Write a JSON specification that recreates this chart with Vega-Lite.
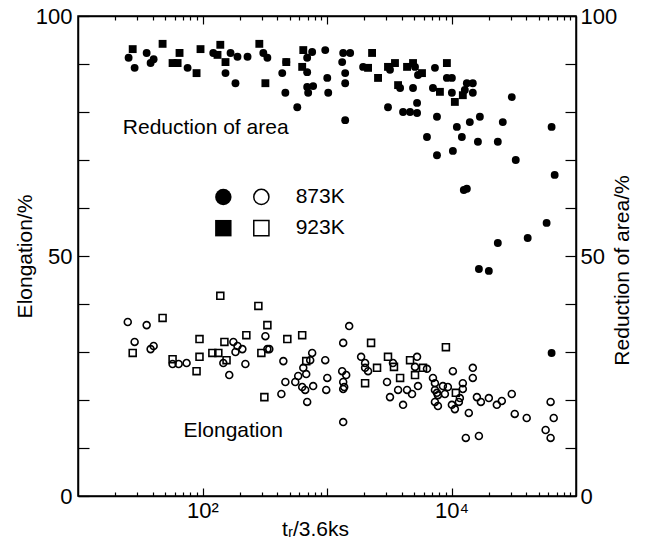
{
  "$schema": "https://vega.github.io/schema/vega-lite/v6.json",
  "width": 498,
  "height": 480,
  "autosize": "none",
  "padding": {"left": 78, "top": 16, "right": 71, "bottom": 46},
  "background": "white",
  "config": {
    "font": "Liberation Sans",
    "view": {"stroke": "black", "strokeWidth": 1.5},
    "axis": {
      "grid": false,
      "domainColor": "black",
      "domainWidth": 1.5,
      "tickColor": "black",
      "tickWidth": 1.2,
      "labelColor": "black",
      "labelFontSize": 22,
      "labelFont": "Liberation Sans",
      "titleColor": "black",
      "titleFontSize": 21,
      "titleFont": "Liberation Sans",
      "titleFontWeight": "normal"
    }
  },
  "datasets": {
    "ra": [
      {"t": 25.5, "v": 91.3, "T": "873K"}, {"t": 28.5, "v": 89.2, "T": "873K"}, {"t": 35.6, "v": 92.3, "T": "873K"}, {"t": 40.5, "v": 91.0, "T": "873K"},
      {"t": 38.3, "v": 90.2, "T": "873K"}, {"t": 75.9, "v": 89.2, "T": "873K"}, {"t": 122, "v": 92.3, "T": "873K"}, {"t": 168, "v": 92.3, "T": "873K"},
      {"t": 191, "v": 91.5, "T": "873K"}, {"t": 153, "v": 88.1, "T": "873K"}, {"t": 184, "v": 86.0, "T": "873K"}, {"t": 230, "v": 91.5, "T": "873K"},
      {"t": 308, "v": 92.3, "T": "873K"}, {"t": 332, "v": 91.3, "T": "873K"}, {"t": 437, "v": 88.1, "T": "873K"}, {"t": 471, "v": 90.4, "T": "873K"},
      {"t": 463, "v": 84.0, "T": "873K"}, {"t": 577, "v": 81.0, "T": "873K"}, {"t": 760, "v": 92.5, "T": "873K"}, {"t": 693, "v": 91.3, "T": "873K"},
      {"t": 693, "v": 88.3, "T": "873K"}, {"t": 693, "v": 85.2, "T": "873K"}, {"t": 774, "v": 85.4, "T": "873K"}, {"t": 706, "v": 84.0, "T": "873K"},
      {"t": 968, "v": 92.9, "T": "873K"}, {"t": 1005, "v": 87.1, "T": "873K"}, {"t": 1023, "v": 84.0, "T": "873K"}, {"t": 1349, "v": 92.3, "T": "873K"},
      {"t": 1535, "v": 92.3, "T": "873K"}, {"t": 1324, "v": 90.4, "T": "873K"}, {"t": 1400, "v": 88.1, "T": "873K"}, {"t": 1400, "v": 86.0, "T": "873K"},
      {"t": 1400, "v": 78.3, "T": "873K"}, {"t": 1950, "v": 89.4, "T": "873K"}, {"t": 3206, "v": 88.8, "T": "873K"}, {"t": 3090, "v": 81.0, "T": "873K"},
      {"t": 3865, "v": 85.0, "T": "873K"}, {"t": 4083, "v": 80.0, "T": "873K"}, {"t": 4647, "v": 80.0, "T": "873K"}, {"t": 5289, "v": 79.8, "T": "873K"},
      {"t": 5093, "v": 89.4, "T": "873K"}, {"t": 5383, "v": 87.7, "T": "873K"}, {"t": 4909, "v": 85.0, "T": "873K"}, {"t": 5289, "v": 81.9, "T": "873K"},
      {"t": 6353, "v": 74.8, "T": "873K"}, {"t": 7362, "v": 89.2, "T": "873K"}, {"t": 7643, "v": 79.0, "T": "873K"}, {"t": 7643, "v": 71.0, "T": "873K"},
      {"t": 7096, "v": 85.0, "T": "873K"}, {"t": 9183, "v": 87.1, "T": "873K"}, {"t": 10070, "v": 87.1, "T": "873K"}, {"t": 10070, "v": 84.0, "T": "873K"},
      {"t": 11040, "v": 76.9, "T": "873K"}, {"t": 12110, "v": 74.8, "T": "873K"}, {"t": 12790, "v": 84.6, "T": "873K"}, {"t": 13280, "v": 86.0, "T": "873K"},
      {"t": 14830, "v": 86.0, "T": "873K"}, {"t": 14830, "v": 84.0, "T": "873K"}, {"t": 14030, "v": 77.9, "T": "873K"}, {"t": 16900, "v": 79.0, "T": "873K"},
      {"t": 16300, "v": 73.8, "T": "873K"}, {"t": 10260, "v": 71.9, "T": "873K"}, {"t": 12560, "v": 63.75, "T": "873K"}, {"t": 13280, "v": 64.0, "T": "873K"},
      {"t": 23550, "v": 73.8, "T": "873K"}, {"t": 25820, "v": 77.9, "T": "873K"}, {"t": 30480, "v": 83.1, "T": "873K"}, {"t": 32810, "v": 70.0, "T": "873K"},
      {"t": 23550, "v": 52.7, "T": "873K"}, {"t": 16600, "v": 47.3, "T": "873K"}, {"t": 19950, "v": 46.9, "T": "873K"}, {"t": 40930, "v": 53.75, "T": "873K"},
      {"t": 58070, "v": 56.9, "T": "873K"}, {"t": 63680, "v": 76.9, "T": "873K"}, {"t": 67400, "v": 66.9, "T": "873K"}, {"t": 63680, "v": 29.8, "T": "873K"},
      {"t": 27.5, "v": 93.1, "T": "923K"}, {"t": 47.8, "v": 94.2, "T": "923K"}, {"t": 65.4, "v": 92.3, "T": "923K"}, {"t": 57.5, "v": 90.2, "T": "923K"},
      {"t": 63.1, "v": 90.2, "T": "923K"}, {"t": 89.6, "v": 88.1, "T": "923K"}, {"t": 96.4, "v": 93.1, "T": "923K"}, {"t": 139, "v": 94.0, "T": "923K"},
      {"t": 132, "v": 91.9, "T": "923K"}, {"t": 153, "v": 90.4, "T": "923K"}, {"t": 286, "v": 94.2, "T": "923K"}, {"t": 320, "v": 86.0, "T": "923K"},
      {"t": 471, "v": 90.4, "T": "923K"}, {"t": 645, "v": 92.9, "T": "923K"}, {"t": 632, "v": 89.4, "T": "923K"}, {"t": 2302, "v": 92.3, "T": "923K"},
      {"t": 2138, "v": 89.2, "T": "923K"}, {"t": 2570, "v": 87.1, "T": "923K"}, {"t": 3090, "v": 89.4, "T": "923K"}, {"t": 3516, "v": 90.2, "T": "923K"},
      {"t": 3724, "v": 85.6, "T": "923K"}, {"t": 4395, "v": 89.4, "T": "923K"}, {"t": 4909, "v": 90.2, "T": "923K"}, {"t": 5794, "v": 88.1, "T": "923K"},
      {"t": 9183, "v": 90.2, "T": "923K"}, {"t": 8072, "v": 84.2, "T": "923K"}, {"t": 10640, "v": 82.1, "T": "923K"}, {"t": 12330, "v": 83.5, "T": "923K"}
    ],
    "el": [
      {"t": 25.1, "v": 36.25, "T": "873K"}, {"t": 35.6, "v": 35.6, "T": "873K"}, {"t": 28.5, "v": 32.1, "T": "873K"}, {"t": 38.3, "v": 30.6, "T": "873K"},
      {"t": 40.5, "v": 31.25, "T": "873K"}, {"t": 57.5, "v": 27.5, "T": "873K"}, {"t": 64.3, "v": 27.5, "T": "873K"}, {"t": 74.5, "v": 27.7, "T": "873K"},
      {"t": 147, "v": 27.7, "T": "873K"}, {"t": 164, "v": 25.2, "T": "873K"}, {"t": 177, "v": 32.1, "T": "873K"}, {"t": 184, "v": 30.0, "T": "873K"},
      {"t": 209, "v": 30.6, "T": "873K"}, {"t": 191, "v": 31.25, "T": "873K"}, {"t": 221, "v": 27.5, "T": "873K"}, {"t": 320, "v": 33.3, "T": "873K"},
      {"t": 332, "v": 30.6, "T": "873K"}, {"t": 344, "v": 30.6, "T": "873K"}, {"t": 430, "v": 21.25, "T": "873K"}, {"t": 446, "v": 28.1, "T": "873K"},
      {"t": 463, "v": 23.75, "T": "873K"}, {"t": 760, "v": 29.8, "T": "873K"}, {"t": 733, "v": 28.3, "T": "873K"}, {"t": 645, "v": 26.7, "T": "873K"},
      {"t": 681, "v": 25.4, "T": "873K"}, {"t": 587, "v": 25.0, "T": "873K"}, {"t": 556, "v": 23.75, "T": "873K"}, {"t": 632, "v": 22.7, "T": "873K"},
      {"t": 668, "v": 22.1, "T": "873K"}, {"t": 774, "v": 22.9, "T": "873K"}, {"t": 693, "v": 19.6, "T": "873K"}, {"t": 968, "v": 28.3, "T": "873K"},
      {"t": 1005, "v": 24.6, "T": "873K"}, {"t": 986, "v": 22.1, "T": "873K"}, {"t": 1349, "v": 31.9, "T": "873K"}, {"t": 1507, "v": 35.4, "T": "873K"},
      {"t": 1324, "v": 26.0, "T": "873K"}, {"t": 1426, "v": 25.2, "T": "873K"}, {"t": 1349, "v": 23.75, "T": "873K"}, {"t": 1374, "v": 22.7, "T": "873K"},
      {"t": 1349, "v": 22.3, "T": "873K"}, {"t": 1349, "v": 15.4, "T": "873K"}, {"t": 1879, "v": 29.0, "T": "873K"}, {"t": 2023, "v": 27.7, "T": "873K"},
      {"t": 2023, "v": 26.7, "T": "873K"}, {"t": 2138, "v": 26.0, "T": "873K"}, {"t": 3034, "v": 23.75, "T": "873K"}, {"t": 3206, "v": 20.6, "T": "873K"},
      {"t": 3388, "v": 27.7, "T": "873K"}, {"t": 3724, "v": 22.1, "T": "873K"}, {"t": 4083, "v": 19.0, "T": "873K"}, {"t": 4395, "v": 22.1, "T": "873K"},
      {"t": 4819, "v": 21.25, "T": "873K"}, {"t": 5383, "v": 22.9, "T": "873K"}, {"t": 5289, "v": 29.0, "T": "873K"}, {"t": 5093, "v": 26.9, "T": "873K"},
      {"t": 6353, "v": 26.5, "T": "873K"}, {"t": 7096, "v": 24.6, "T": "873K"}, {"t": 7362, "v": 23.5, "T": "873K"}, {"t": 7362, "v": 22.1, "T": "873K"},
      {"t": 7643, "v": 21.5, "T": "873K"}, {"t": 7780, "v": 21.0, "T": "873K"}, {"t": 7362, "v": 19.6, "T": "873K"}, {"t": 7780, "v": 18.75, "T": "873K"},
      {"t": 8530, "v": 22.9, "T": "873K"}, {"t": 9354, "v": 22.7, "T": "873K"}, {"t": 8851, "v": 21.25, "T": "873K"}, {"t": 10070, "v": 19.0, "T": "873K"},
      {"t": 10640, "v": 18.1, "T": "873K"}, {"t": 10260, "v": 26.0, "T": "873K"}, {"t": 11670, "v": 20.4, "T": "873K"}, {"t": 12330, "v": 22.3, "T": "873K"},
      {"t": 12330, "v": 23.5, "T": "873K"}, {"t": 11460, "v": 19.6, "T": "873K"}, {"t": 14830, "v": 26.7, "T": "873K"}, {"t": 14830, "v": 24.6, "T": "873K"},
      {"t": 13770, "v": 17.3, "T": "873K"}, {"t": 13030, "v": 12.1, "T": "873K"}, {"t": 16600, "v": 12.5, "T": "873K"}, {"t": 16000, "v": 20.6, "T": "873K"},
      {"t": 17220, "v": 19.6, "T": "873K"}, {"t": 19950, "v": 20.4, "T": "873K"}, {"t": 23120, "v": 19.0, "T": "873K"}, {"t": 25350, "v": 19.8, "T": "873K"},
      {"t": 30480, "v": 21.25, "T": "873K"}, {"t": 32210, "v": 17.1, "T": "873K"}, {"t": 40180, "v": 16.25, "T": "873K"}, {"t": 62520, "v": 19.6, "T": "873K"},
      {"t": 66220, "v": 16.25, "T": "873K"}, {"t": 57020, "v": 13.75, "T": "873K"}, {"t": 62520, "v": 12.1, "T": "873K"},
      {"t": 47.8, "v": 37.1, "T": "923K"}, {"t": 27.5, "v": 29.8, "T": "923K"}, {"t": 57.5, "v": 28.5, "T": "923K"}, {"t": 89.6, "v": 26.0, "T": "923K"},
      {"t": 94.6, "v": 29.0, "T": "923K"}, {"t": 94.6, "v": 32.7, "T": "923K"}, {"t": 139, "v": 41.7, "T": "923K"}, {"t": 120, "v": 29.8, "T": "923K"},
      {"t": 134, "v": 29.8, "T": "923K"}, {"t": 150, "v": 32.1, "T": "923K"}, {"t": 156, "v": 28.3, "T": "923K"}, {"t": 225, "v": 33.5, "T": "923K"},
      {"t": 281, "v": 39.6, "T": "923K"}, {"t": 332, "v": 35.6, "T": "923K"}, {"t": 297, "v": 29.8, "T": "923K"}, {"t": 314, "v": 20.6, "T": "923K"},
      {"t": 480, "v": 32.7, "T": "923K"}, {"t": 632, "v": 33.5, "T": "923K"}, {"t": 681, "v": 28.1, "T": "923K"}, {"t": 2259, "v": 31.9, "T": "923K"},
      {"t": 2523, "v": 26.7, "T": "923K"}, {"t": 2023, "v": 23.5, "T": "923K"}, {"t": 3090, "v": 29.0, "T": "923K"}, {"t": 3451, "v": 26.9, "T": "923K"},
      {"t": 3865, "v": 24.6, "T": "923K"}, {"t": 5093, "v": 25.2, "T": "923K"}, {"t": 4647, "v": 28.3, "T": "923K"}, {"t": 5902, "v": 26.7, "T": "923K"},
      {"t": 9016, "v": 31.0, "T": "923K"}, {"t": 10840, "v": 21.5, "T": "923K"}
    ],
    "legendFilled": [
      {"t": 147, "v": 62.3, "T": "873K"},
      {"t": 147, "v": 55.8, "T": "923K"}
    ],
    "legendOpen": [
      {"t": 297, "v": 62.3, "T": "873K"},
      {"t": 297, "v": 55.8, "T": "923K"}
    ],
    "notes": [
      {"t": 22.9, "v": 76.7, "label": "Reduction of area"},
      {"t": 70.5, "v": 13.5, "label": "Elongation"},
      {"t": 560, "v": 62.3, "label": "873K"},
      {"t": 560, "v": 55.8, "label": "923K"}
    ]
  },
  "layer": [
    {
      "data": {"name": "el"},
      "mark": {"type": "point", "filled": false, "stroke": "black", "strokeWidth": 1.6, "opacity": 1},
      "encoding": {
        "x": {
          "field": "t", "type": "quantitative",
          "scale": {"type": "log", "domain": [10, 100000], "nice": false},
          "axis": {
            "orient": "bottom",
            "title": "tᵣ/3.6ks",
            "values": [20,30,40,50,60,70,80,90,100,200,300,400,500,600,700,800,900,1000,2000,3000,4000,5000,6000,7000,8000,9000,10000,20000,30000,40000,50000,60000,70000,80000,90000],
            "tickSize": {"condition": {"test": "datum.value == 100 || datum.value == 1000 || datum.value == 10000", "value": -8}, "value": -4},
            "labelExpr": "datum.value == 100 ? '10²' : datum.value == 10000 ? '10⁴' : ''",
            "labelPadding": 12,
            "labelFlush": false,
            "labelOverlap": false,
            "titleX": 237,
            "titleY": 33,
            "titleBaseline": "middle"
          }
        },
        "y": {
          "field": "v", "type": "quantitative",
          "scale": {"domain": [0, 100], "nice": false},
          "axis": {
            "orient": "left",
            "title": "Elongation/%",
            "values": [0,10,20,30,40,50,60,70,80,90,100],
            "tickSize": -11,
            "labelExpr": "datum.value % 50 == 0 ? datum.label : ''",
            "labelPadding": 17,
            "labelFlush": false,
            "labelOverlap": false,
            "titleAngle": -90,
            "titleX": -53,
            "titleY": 240,
            "titleBaseline": "middle",
            "titleAlign": "center"
          }
        },
        "shape": {"field": "T", "type": "nominal", "scale": {"domain": ["873K", "923K"], "range": ["circle", "square"]}, "legend": null},
        "size": {"value": 48}
      }
    },
    {
      "data": {"name": "ra"},
      "mark": {"type": "point", "filled": true, "fill": "black", "opacity": 1},
      "encoding": {
        "x": {
          "field": "t", "type": "quantitative",
          "scale": {"type": "log", "domain": [10, 100000], "nice": false},
          "axis": {
            "orient": "top",
            "title": null,
            "labels": false,
            "values": [20,30,40,50,60,70,80,90,100,200,300,400,500,600,700,800,900,1000,2000,3000,4000,5000,6000,7000,8000,9000,10000,20000,30000,40000,50000,60000,70000,80000,90000],
            "tickSize": {"condition": {"test": "datum.value == 100 || datum.value == 1000 || datum.value == 10000", "value": -8}, "value": -4}
          }
        },
        "y": {
          "field": "v", "type": "quantitative",
          "scale": {"domain": [0, 100], "nice": false},
          "axis": {
            "orient": "right",
            "title": "Reduction of area/%",
            "values": [0,10,20,30,40,50,60,70,80,90,100],
            "tickSize": -11,
            "labelExpr": "datum.value % 50 == 0 ? datum.label : ''",
            "labelPadding": 15,
            "labelFlush": false,
            "labelOverlap": false,
            "titleAngle": -90,
            "titleX": 46,
            "titleY": 254,
            "titleBaseline": "middle",
            "titleAlign": "center"
          }
        },
        "shape": {"field": "T", "type": "nominal", "scale": {"domain": ["873K", "923K"], "range": ["circle", "square"]}, "legend": null},
        "size": {"value": 62}
      }
    },
    {
      "data": {"name": "legendFilled"},
      "mark": {"type": "point", "filled": true, "fill": "black", "opacity": 1},
      "encoding": {
        "x": {"field": "t", "type": "quantitative", "scale": {"type": "log", "domain": [10, 100000], "nice": false}, "axis": null},
        "y": {"field": "v", "type": "quantitative", "scale": {"domain": [0, 100], "nice": false}, "axis": null},
        "shape": {"field": "T", "type": "nominal", "scale": {"domain": ["873K", "923K"], "range": ["circle", "square"]}, "legend": null},
        "size": {"value": 270}
      }
    },
    {
      "data": {"name": "legendOpen"},
      "mark": {"type": "point", "filled": false, "stroke": "black", "strokeWidth": 1.5, "opacity": 1},
      "encoding": {
        "x": {"field": "t", "type": "quantitative", "scale": {"type": "log", "domain": [10, 100000], "nice": false}, "axis": null},
        "y": {"field": "v", "type": "quantitative", "scale": {"domain": [0, 100], "nice": false}, "axis": null},
        "shape": {"field": "T", "type": "nominal", "scale": {"domain": ["873K", "923K"], "range": ["circle", "square"]}, "legend": null},
        "size": {"value": 230}
      }
    },
    {
      "data": {"name": "notes"},
      "mark": {"type": "text", "align": "left", "baseline": "middle", "fontSize": 21, "font": "Liberation Sans", "color": "black"},
      "encoding": {
        "x": {"field": "t", "type": "quantitative", "scale": {"type": "log", "domain": [10, 100000], "nice": false}, "axis": null},
        "y": {"field": "v", "type": "quantitative", "scale": {"domain": [0, 100], "nice": false}, "axis": null},
        "text": {"field": "label"}
      }
    }
  ],
  "resolve": {"axis": {"x": "independent", "y": "independent"}}
}
